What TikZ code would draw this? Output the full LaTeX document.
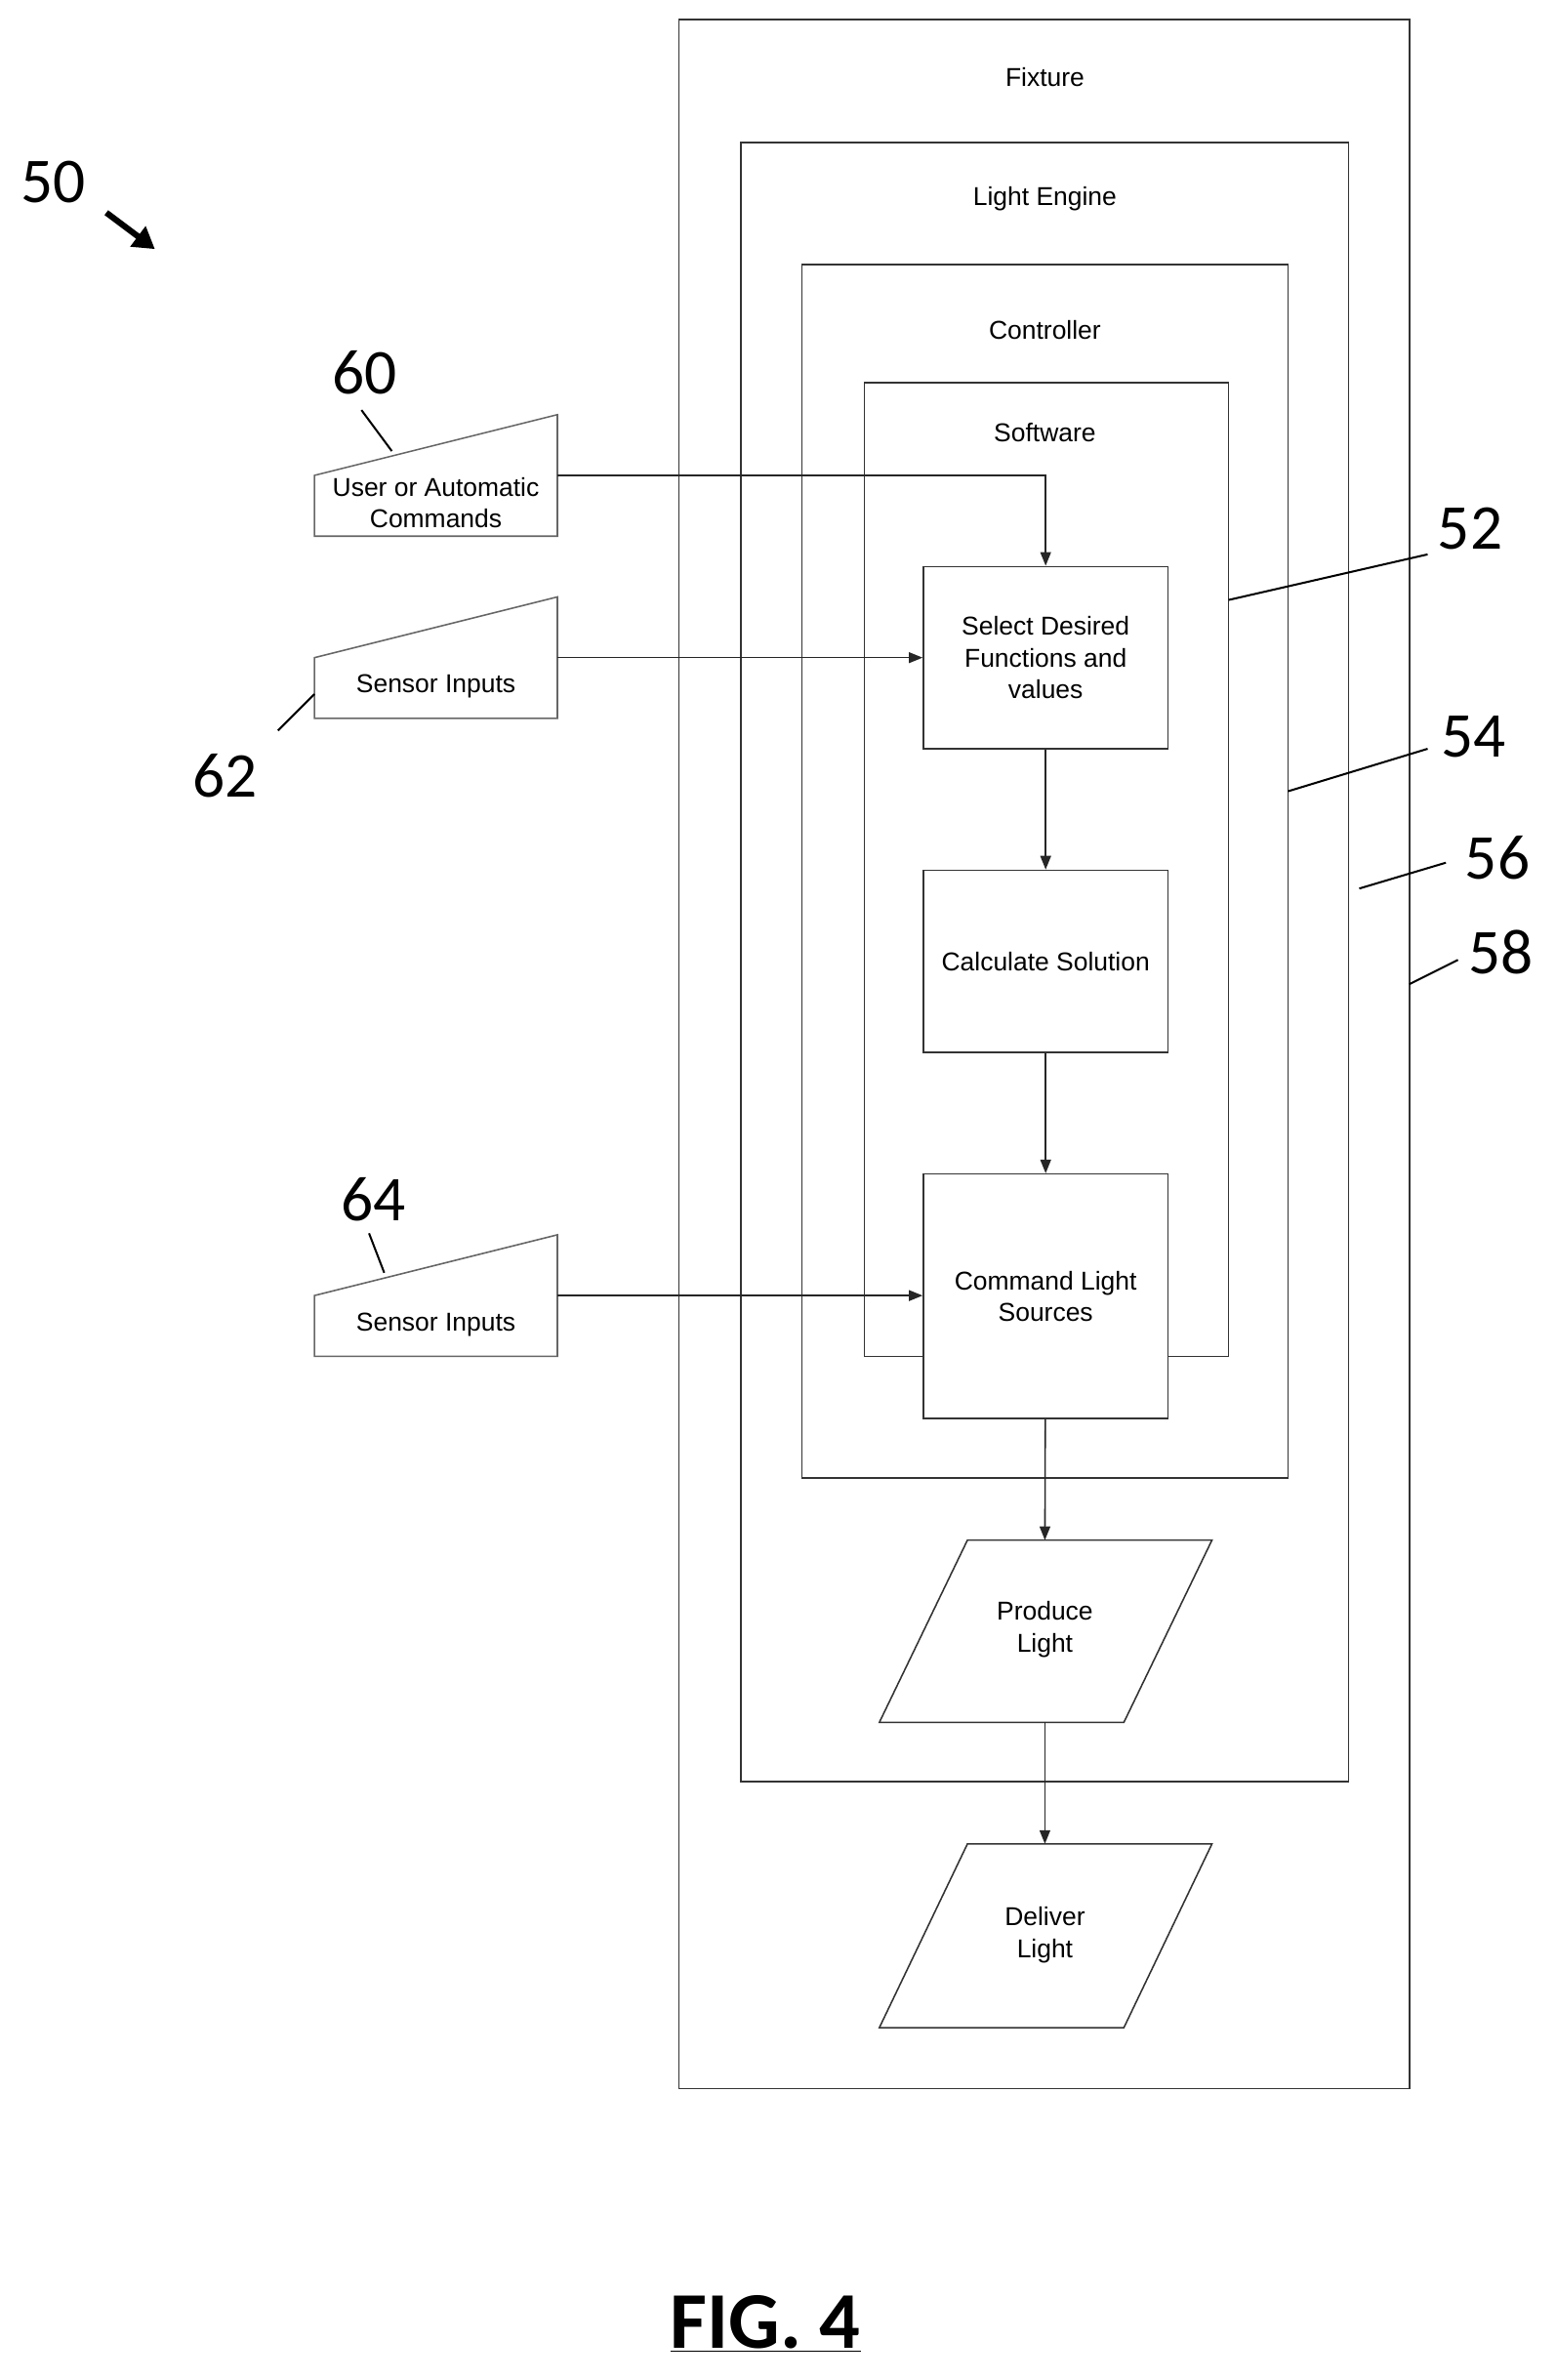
\documentclass[tikz,border=0pt]{standalone}
\usepackage{fontspec}
\setmainfont{Liberation Sans}
\newfontfamily\numfont{Carlito}
\usetikzlibrary{arrows.meta}
\begin{document}
\begin{tikzpicture}[x=1pt,y=-1pt,
        frame/.style={draw=black!80,line width=1pt},
        step box/.style={frame,minimum width=161pt,minimum height=120pt,
            align=center,font=\fontsize{17}{21}\selectfont,inner sep=2pt},
        box label/.style={font=\fontsize{17}{21}\selectfont},
        flow/.style={draw=black!85,line width=1pt,-{Triangle[length=9pt,width=7pt]}},
        lead/.style={draw=black,line width=1.3pt},
        refnum/.style={font=\numfont\fontsize{42}{46}\selectfont}
    ]
    \useasboundingbox (0,0) rectangle (1024,1567);

    % nested frames
    \draw[frame] (447,13) rectangle (928,1375);
    \node[box label] (fixture) at (688,51) {Fixture};
    \draw[frame] (488,94) rectangle (888,1173);
    \node[box label] (engine) at (688,131) {Light Engine};
    \draw[frame] (528,174) rectangle (848,973);
    \node[box label] (controller) at (688,217) {Controller};
    \draw[frame] (569,252) rectangle (809,893);
    \node[box label] (software) at (688,285) {Software};

    % steps
    \node[step box] (select) at (688.5,433) {Select Desired\\Functions and\\values};
    \node[step box] (calc) at (688.5,633) {Calculate Solution};
    \node[step box,fill=white,minimum height=161pt] (command) at (688.5,853.5) {Command Light\\Sources};

    % outputs
    \draw[frame] (637,1014) -- (798,1014) -- (740,1134) -- (579,1134) -- cycle;
    \node[box label,align=center] (produce) at (688,1073) {Produce\\Light};
    \draw[frame] (637,1214) -- (798,1214) -- (740,1335) -- (579,1335) -- cycle;
    \node[box label,align=center] (deliver) at (688,1274) {Deliver\\Light};
    \coordinate (produce top) at (688,1014);
    \coordinate (produce bot) at (688,1134);
    \coordinate (deliver top) at (688,1214);

    % manual inputs
    \draw[frame,draw=black!60] (207,313) -- (367,273) -- (367,353) -- (207,353) -- cycle;
    \node[box label,align=center] (user) at (287,331) {User or Automatic\\Commands};
    \draw[frame,draw=black!60] (207,433) -- (367,393) -- (367,473) -- (207,473) -- cycle;
    \node[box label] (sensA) at (287,452) {Sensor Inputs};
    \draw[frame,draw=black!60] (207,853) -- (367,813) -- (367,893) -- (207,893) -- cycle;
    \node[box label] (sensB) at (287,872) {Sensor Inputs};
    \coordinate (user out) at (367,313);
    \coordinate (sensA out) at (367,433);
    \coordinate (sensB out) at (367,853);

    % connectors
    \draw[flow] (user out) -| (select.north);
    \draw[flow] (sensA out) -- (select.west |- sensA out);
    \draw[flow] (sensB out) -- (command.west |- sensB out);
    \draw[flow] (select) -- (calc);
    \draw[flow] (calc) -- (command);
    \draw[flow] (command) -- (produce top);
    \draw[flow] (produce bot) -- (deliver top);

    % reference numerals
    \node[refnum] (n50) at (35,120) {50};
    \draw[line width=4pt,-{Triangle[length=14pt,width=16pt]}] (70,140) -- (102,164);
    \node[refnum] (n60) at (240,245) {60};
    \draw[lead] (258,297) -- (238,270);
    \node[refnum] (n62) at (148,511) {62};
    \draw[lead] (183,481) -- (207,457);
    \node[refnum] (n64) at (246,790) {64};
    \draw[lead] (253,838) -- (243,812);
    \node[refnum] (n52) at (968,348) {52};
    \draw[lead] (809,395) -- (940,365);
    \node[refnum] (n54) at (970,485) {54};
    \draw[lead] (848,521) -- (940,493);
    \node[refnum] (n56) at (986,565) {56};
    \draw[lead] (895,585) -- (952,568);
    \node[refnum] (n58) at (988,627) {58};
    \draw[lead] (928,648) -- (960,632);

    \node[font=\numfont\bfseries\fontsize{53}{58}\selectfont] (fig) at (504,1530) {\underline{FIG. 4}};
\end{tikzpicture}
\end{document}
